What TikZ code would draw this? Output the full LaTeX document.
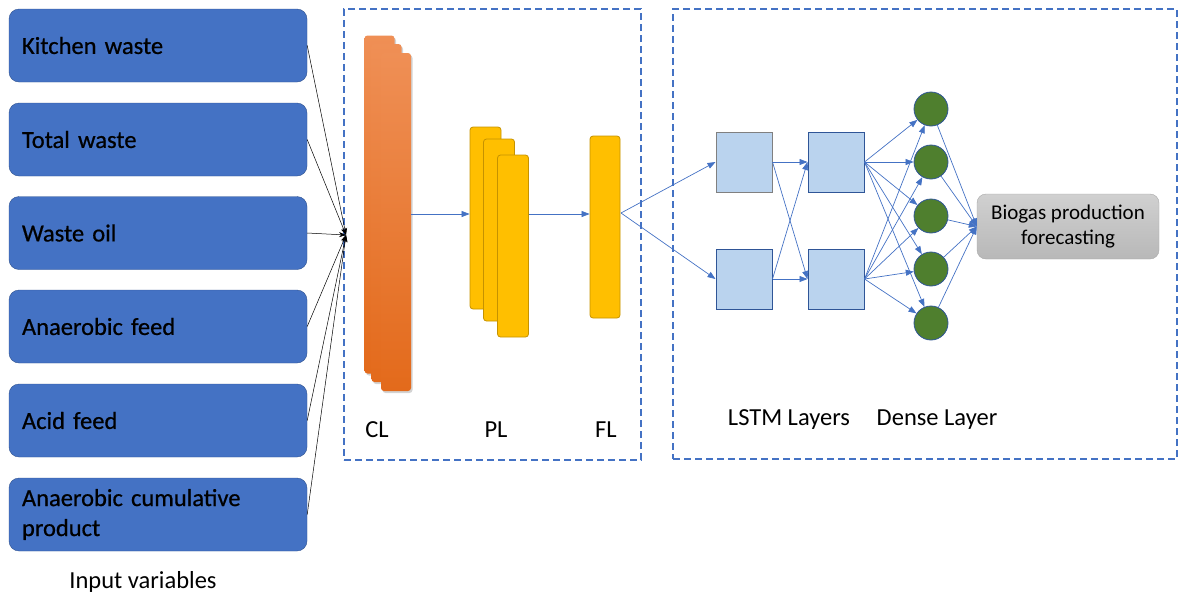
\documentclass[tikz,border=0pt]{standalone}
\usepackage{fontspec}
\setmainfont{Carlito}
\newfontfamily\boxfont{Carlito}[FakeBold=0.6]
\usetikzlibrary{arrows.meta,shadows}
\definecolor{inblue}{HTML}{4472C4}
\definecolor{inedge}{HTML}{2F528F}
\definecolor{clTop}{HTML}{EF8F55}
\definecolor{clBot}{HTML}{E36A1B}
\definecolor{plFill}{HTML}{FFBF00}
\definecolor{plEdge}{HTML}{C59200}
\definecolor{lstmFill}{HTML}{BAD3EE}
\definecolor{lstmEdge}{HTML}{2F5597}
\definecolor{denseFill}{HTML}{4F7F2E}
\definecolor{outFill}{HTML}{C8C8C8}
\definecolor{outEdge}{HTML}{A8A8A8}
\tikzset{
  inbox/.style={draw=inedge, fill=inblue, rounded corners=10pt, minimum width=298pt,
    minimum height=73pt, text width=272pt, align=left, inner sep=0pt,
    font=\boxfont\fontsize{24.5}{30}\selectfont},
  clsheet/.style={rounded corners=3pt, minimum width=30pt, minimum height=338pt,
    top color=clTop, bottom color=clBot, draw=none,
    drop shadow={shadow xshift=1.5pt, shadow yshift=-2pt, opacity=0.35}},
  plsheet/.style={draw=plEdge, fill=plFill, line width=0.8pt, rounded corners=3pt,
    minimum width=31pt, minimum height=182pt},
  lstmcell/.style={draw=lstmEdge, fill=lstmFill, line width=1pt, minimum width=56pt, minimum height=60pt, inner sep=0pt},
  densecell/.style={circle, draw=lstmEdge, fill=denseFill, line width=0.8pt, minimum size=34pt, inner sep=0pt},
  groupbox/.style={draw=inblue, line width=1.4pt, dash pattern=on 7pt off 4pt, inner sep=0pt},
  inarrow/.style={draw=black, line width=0.5pt, -{Stealth[length=7pt,width=5pt]}},
  flow/.style={draw=inblue, line width=0.7pt, -{Triangle[length=8pt,width=6pt]}},
  caption/.style={font=\fontsize{24.5}{26}\selectfont, inner sep=0pt},
}
\begin{document}
\begin{tikzpicture}[x=1pt,y=-1pt]
\useasboundingbox (0,0) rectangle (1178,598);

% dashed group frames
\node[groupbox, minimum width=297pt, minimum height=451pt] (cnnbox) at (492.5,234.5) {};
\node[groupbox, minimum width=504pt, minimum height=450pt] (lstmbox) at (925,234) {};

% input variables
\node[inbox] (in1) at (158,45.5) {Kitchen waste};
\node[inbox] (in2) at (158,139.5) {Total waste};
\node[inbox] (in3) at (158,233) {Waste oil};
\node[inbox] (in4) at (158,326.5) {Anaerobic feed};
\node[inbox] (in5) at (158,420.5) {Acid feed};
\node[inbox] (in6) at (158,514.5) {Anaerobic cumulative\\product};
\node[caption] (invar) at (143,582) {Input variables};

\coordinate (conv) at (346,235);
\foreach \i in {1,...,6} \draw[inarrow] (in\i.east) -- (conv);

% convolution layer
\node[clsheet] (cl1) at (379.5,204.5) {};
\node[clsheet] (cl2) at (386.5,213) {};
\node[clsheet] (cl3) at (396,222) {};
% pooling layer
\node[plsheet] (pl1) at (485.5,218) {};
\node[plsheet] (pl2) at (499,230) {};
\node[plsheet] (pl3) at (513,246) {};
% flatten layer
\node[plsheet, minimum width=30pt] (fl) at (605,227) {};

\node[caption] (cllab) at (377,430) {CL};
\node[caption] (pllab) at (496,430) {PL};
\node[caption] (fllab) at (606,430) {FL};

\draw[flow] (cl3.east |- 0,214) -- (pl1.west |- 0,214);
\draw[flow] (pl3.east |- 0,214) -- (fl.west |- 0,214);

% LSTM layers
\node[lstmcell, draw=gray] (l1a) at (744,162) {};
\node[lstmcell] (l1b) at (744,279) {};
\node[lstmcell] (l2a) at (836,162) {};
\node[lstmcell] (l2b) at (836,279) {};

\coordinate (flout) at (621,213);
\draw[flow] (flout) -- (l1a.west);
\draw[flow] (flout) -- (l1b.west);
\foreach \s in {l1a,l1b} \foreach \t in {l2a,l2b} \draw[flow] (\s.east) -- (\t.west);

% dense layer
\foreach \k/\y in {1/109,2/162,3/216,4/269,5/323}
  \node[densecell] (d\k) at (931,\y) {};
\foreach \s in {l2a,l2b} \foreach \k in {1,...,5} \draw[flow] (\s.east) -- (d\k);

\node[caption] (lstmlab) at (789,420) {LSTM Layers};
\node[caption] (denselab) at (937,420) {Dense Layer};

% output
\node[draw=outEdge, top color=outFill!85!white, bottom color=outFill!92!black, rounded corners=9pt,
  minimum width=182pt, minimum height=65pt, align=center, inner sep=0pt,
  font=\fontsize{21}{25}\selectfont] (out) at (1068,226.5) {Biogas production\\forecasting};
\foreach \k in {1,...,5} \draw[flow] (d\k) -- (out.west);
\end{tikzpicture}
\end{document}
